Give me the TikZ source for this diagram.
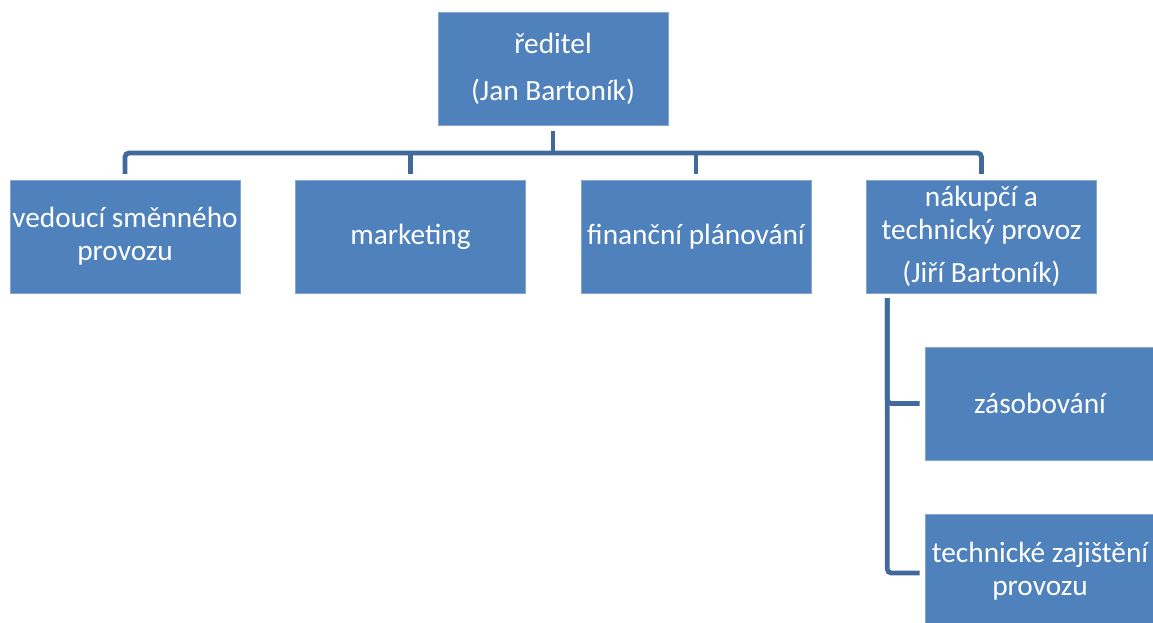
\documentclass[tikz,border=0pt]{standalone}
\usepackage{fontspec}
\setmainfont{Carlito}
\usetikzlibrary{calc}
\definecolor{boxblue}{HTML}{4F81BD}
\definecolor{lineblue}{HTML}{41699B}
\tikzset{
  unit/.style={x=0.75pt,y=-0.75pt},
  orgbox/.style={fill=boxblue, draw=boxblue!70!white, line width=0.4pt, text=white,
    minimum width=172.5pt, minimum height=84.5pt, inner sep=0pt, align=center,
    font=\fontsize{22pt}{24.75pt}\selectfont},
  conn/.style={draw=lineblue, line width=3.6pt, rounded corners=3pt}
}
\begin{document}
\begin{tikzpicture}[unit]
\useasboundingbox (0,0) rectangle (1153,623);
\clip (0,0) rectangle (1153,623);
\node[orgbox] (top) at (553,69) {ředitel\\[10pt](Jan Bartoník)};
\node[orgbox] (c1) at (125,236.5) {vedoucí směnného\\provozu};
\node[orgbox] (c2) at (410.5,236.5) {marketing};
\node[orgbox] (c3) at (696,236.5) {finanční plánování};
\node[orgbox] (c4) at (981.5,236.5) {nákupčí a\\technický provoz\\[7pt](Jiří Bartoník)};
\node[orgbox] (z) at (1040,403.5) {zásobování};
\node[orgbox] (t) at (1040,571) {technické zajištění\\provozu};
\coordinate (bus) at (0,153);
\draw[conn] ($(c1.north)+(0,-6)$) |- (bus -| c4.north) -- ($(c4.north)+(0,-6)$);
\draw[conn] ($(c2.north)+(0,-6)$) -- (bus -| c2.north);
\draw[conn] ($(c3.north)+(0,-6)$) -- (bus -| c3.north);
\draw[conn] ($(top.south)+(0,5)$) -- (bus -| top.south);
\draw[conn] ($(c4.south west)+(21,5)$) |- ($(z.west)+(-5,0)$);
\draw[conn] ($(c4.south west)+(21,5)$) |- ($(t.west)+(-5,2)$);
\end{tikzpicture}
\end{document}
